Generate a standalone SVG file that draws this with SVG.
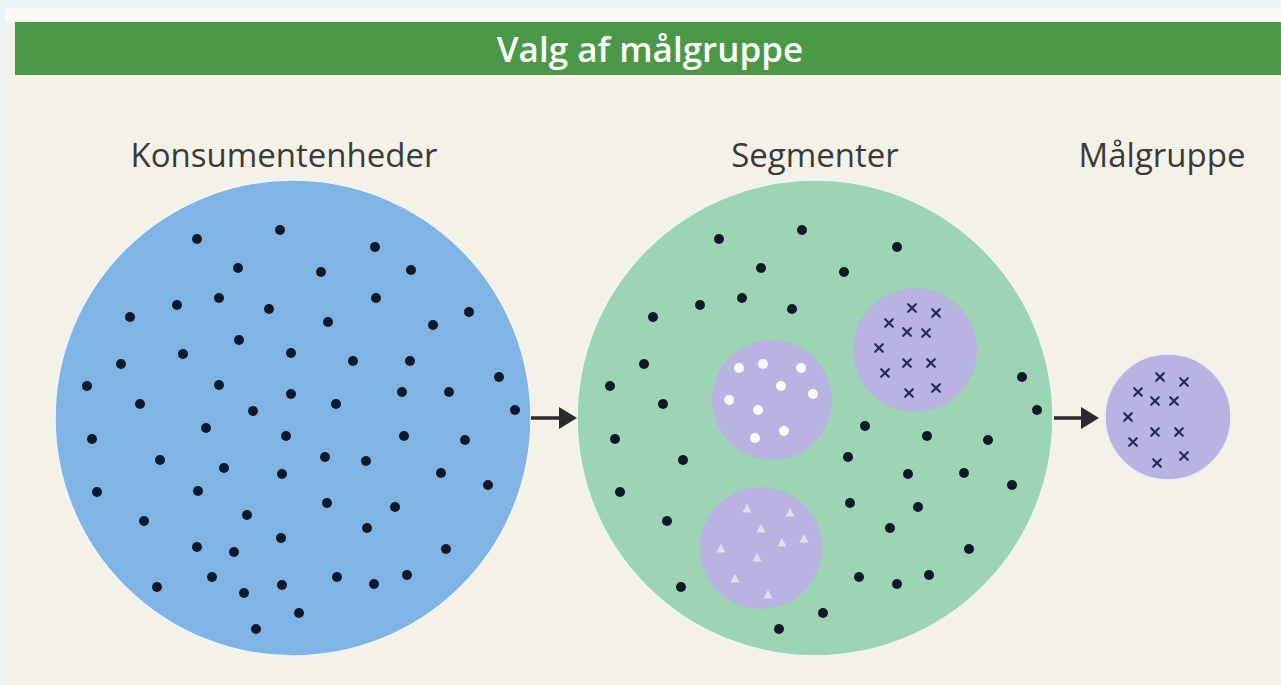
<svg xmlns="http://www.w3.org/2000/svg" xmlns:xlink="http://www.w3.org/1999/xlink" width="1281" height="685" viewBox="0 0 1281 685">
<style>
.title{font-family:"Open Sans","Liberation Sans",sans-serif;font-weight:600;font-size:35px;fill:#ffffff}
.lbl{font-family:"Open Sans","Liberation Sans",sans-serif;font-size:33px;fill:#3a3a3a}
.d{fill:#0e1a2c}
.w{fill:#fbf8ff}
.arr{stroke:#2a2a2a;stroke-width:3.5;fill:none}
.ah{fill:#2a2a2a}
</style>
<defs>
<path id="x" d="M-3.8,-3.8L3.8,3.8M3.8,-3.8L-3.8,3.8" stroke="#2b2a55" stroke-width="2.2" stroke-linecap="round"/>
<polygon id="t" points="0,-5 4.6,3.6 -4.6,3.6" fill="#ece3ee" opacity="0.85"/>
</defs>
<rect x="0" y="0" width="1281" height="685" fill="#e9f4f4"/>
<rect x="5" y="8" width="1276" height="677" fill="#f4f1e6"/>
<rect x="5" y="8" width="1276" height="14" fill="#fbfaf4"/>
<g id="header">
<rect x="15" y="22" width="1266" height="53" fill="#4a9848"/>
<text class="title" x="650" y="62" text-anchor="middle">Valg af målgruppe</text>
</g>
<g id="consumers">
<text class="lbl" x="284" y="167" text-anchor="middle">Konsumentenheder</text>
<circle cx="293" cy="418" r="238" fill="#80b4e4" stroke="#eef6fa" stroke-width="1.5"/>
<g>
<circle class="d" cx="197" cy="239" r="5"/><circle class="d" cx="280" cy="230" r="5"/><circle class="d" cx="375" cy="247" r="5"/>
<circle class="d" cx="238" cy="268" r="5"/><circle class="d" cx="321" cy="272" r="5"/><circle class="d" cx="411" cy="270" r="5"/>
<circle class="d" cx="130" cy="317" r="5"/><circle class="d" cx="177" cy="305" r="5"/><circle class="d" cx="219" cy="298" r="5"/>
<circle class="d" cx="269" cy="309" r="5"/><circle class="d" cx="328" cy="322" r="5"/><circle class="d" cx="376" cy="298" r="5"/>
<circle class="d" cx="433" cy="325" r="5"/><circle class="d" cx="469" cy="312" r="5"/>
<circle class="d" cx="121" cy="364" r="5"/><circle class="d" cx="183" cy="354" r="5"/><circle class="d" cx="239" cy="340" r="5"/>
<circle class="d" cx="291" cy="353" r="5"/><circle class="d" cx="353" cy="361" r="5"/><circle class="d" cx="410" cy="361" r="5"/>
<circle class="d" cx="87" cy="386" r="5"/><circle class="d" cx="140" cy="404" r="5"/><circle class="d" cx="219" cy="385" r="5"/>
<circle class="d" cx="253" cy="411" r="5"/><circle class="d" cx="291" cy="394" r="5"/><circle class="d" cx="336" cy="404" r="5"/>
<circle class="d" cx="402" cy="392" r="5"/><circle class="d" cx="449" cy="392" r="5"/><circle class="d" cx="499" cy="377" r="5"/>
<circle class="d" cx="515" cy="410" r="5"/>
<circle class="d" cx="92" cy="439" r="5"/><circle class="d" cx="206" cy="428" r="5"/><circle class="d" cx="286" cy="436" r="5"/>
<circle class="d" cx="404" cy="436" r="5"/><circle class="d" cx="465" cy="440" r="5"/>
<circle class="d" cx="160" cy="460" r="5"/><circle class="d" cx="224" cy="468" r="5"/><circle class="d" cx="282" cy="474" r="5"/>
<circle class="d" cx="325" cy="457" r="5"/><circle class="d" cx="366" cy="461" r="5"/><circle class="d" cx="441" cy="473" r="5"/>
<circle class="d" cx="488" cy="485" r="5"/>
<circle class="d" cx="97" cy="492" r="5"/><circle class="d" cx="198" cy="491" r="5"/><circle class="d" cx="247" cy="515" r="5"/>
<circle class="d" cx="327" cy="503" r="5"/><circle class="d" cx="367" cy="528" r="5"/><circle class="d" cx="395" cy="507" r="5"/>
<circle class="d" cx="144" cy="521" r="5"/><circle class="d" cx="197" cy="547" r="5"/><circle class="d" cx="234" cy="552" r="5"/>
<circle class="d" cx="281" cy="538" r="5"/><circle class="d" cx="446" cy="549" r="5"/>
<circle class="d" cx="157" cy="587" r="5"/><circle class="d" cx="212" cy="577" r="5"/><circle class="d" cx="244" cy="593" r="5"/>
<circle class="d" cx="282" cy="585" r="5"/><circle class="d" cx="337" cy="577" r="5"/><circle class="d" cx="374" cy="584" r="5"/>
<circle class="d" cx="407" cy="575" r="5"/><circle class="d" cx="299" cy="613" r="5"/><circle class="d" cx="256" cy="629" r="5"/>
</g>
</g>
<g id="segments">
<text class="lbl" x="815" y="167" text-anchor="middle">Segmenter</text>
<circle cx="815" cy="418" r="238" fill="#9dd4b3" stroke="#eef8f2" stroke-width="1.5"/>
<g>
<circle class="d" cx="719" cy="239" r="5"/><circle class="d" cx="802" cy="230" r="5"/><circle class="d" cx="897" cy="247" r="5"/>
<circle class="d" cx="761" cy="268" r="5"/><circle class="d" cx="844" cy="272" r="5"/>
<circle class="d" cx="653" cy="317" r="5"/><circle class="d" cx="700" cy="305" r="5"/><circle class="d" cx="742" cy="298" r="5"/>
<circle class="d" cx="792" cy="309" r="5"/>
<circle class="d" cx="644" cy="364" r="5"/><circle class="d" cx="610" cy="386" r="5"/><circle class="d" cx="663" cy="404" r="5"/>
<circle class="d" cx="1022" cy="377" r="5"/><circle class="d" cx="1037" cy="410" r="5"/>
<circle class="d" cx="615" cy="439" r="5"/><circle class="d" cx="865" cy="426" r="5"/><circle class="d" cx="927" cy="436" r="5"/>
<circle class="d" cx="988" cy="440" r="5"/>
<circle class="d" cx="683" cy="460" r="5"/><circle class="d" cx="848" cy="457" r="5"/><circle class="d" cx="908" cy="474" r="5"/>
<circle class="d" cx="964" cy="473" r="5"/><circle class="d" cx="1012" cy="485" r="5"/>
<circle class="d" cx="620" cy="492" r="5"/><circle class="d" cx="667" cy="521" r="5"/><circle class="d" cx="850" cy="503" r="5"/>
<circle class="d" cx="890" cy="528" r="5"/><circle class="d" cx="918" cy="507" r="5"/><circle class="d" cx="969" cy="549" r="5"/>
<circle class="d" cx="681" cy="587" r="5"/><circle class="d" cx="859" cy="577" r="5"/><circle class="d" cx="897" cy="584" r="5"/>
<circle class="d" cx="929" cy="575" r="5"/><circle class="d" cx="823" cy="613" r="5"/><circle class="d" cx="779" cy="629" r="5"/>
</g>
<g id="segment-a">
<circle cx="772" cy="400" r="60" fill="#b8b3e0"/>
<circle class="w" cx="739" cy="368" r="5"/><circle class="w" cx="763" cy="364" r="5"/><circle class="w" cx="801" cy="368" r="5"/>
<circle class="w" cx="781" cy="386" r="5"/><circle class="w" cx="813" cy="394" r="5"/><circle class="w" cx="729" cy="400" r="5"/>
<circle class="w" cx="758" cy="410" r="5"/><circle class="w" cx="784" cy="431" r="5"/><circle class="w" cx="755" cy="438" r="5"/>
</g>
<g id="segment-b">
<circle cx="915" cy="350" r="62" fill="#b8b3e0"/>
<use xlink:href="#x" x="912" y="308"/><use xlink:href="#x" x="936" y="313"/><use xlink:href="#x" x="889" y="323"/>
<use xlink:href="#x" x="907" y="332"/><use xlink:href="#x" x="926" y="333"/><use xlink:href="#x" x="879" y="348"/>
<use xlink:href="#x" x="907" y="363"/><use xlink:href="#x" x="931" y="363"/><use xlink:href="#x" x="885" y="373"/>
<use xlink:href="#x" x="909" y="393"/><use xlink:href="#x" x="936" y="388"/>
</g>
<g id="segment-c">
<circle cx="761" cy="548" r="61" fill="#b8b3e0"/>
<use xlink:href="#t" x="747" y="509"/><use xlink:href="#t" x="790" y="513"/><use xlink:href="#t" x="761" y="529"/>
<use xlink:href="#t" x="782" y="543"/><use xlink:href="#t" x="804" y="539"/><use xlink:href="#t" x="721" y="549"/>
<use xlink:href="#t" x="757" y="558"/><use xlink:href="#t" x="735" y="579"/><use xlink:href="#t" x="768" y="595"/>
</g>
</g>
<g id="target">
<text class="lbl" x="1162" y="167" text-anchor="middle">Målgruppe</text>
<circle cx="1168" cy="417" r="63" fill="#b8b3e0" stroke="#eeeef8" stroke-width="1.5"/>
<use xlink:href="#x" x="1160" y="377"/><use xlink:href="#x" x="1184" y="382"/><use xlink:href="#x" x="1138" y="392"/>
<use xlink:href="#x" x="1155" y="401"/><use xlink:href="#x" x="1174" y="401"/><use xlink:href="#x" x="1128" y="417"/>
<use xlink:href="#x" x="1155" y="432"/><use xlink:href="#x" x="1179" y="432"/><use xlink:href="#x" x="1133" y="442"/>
<use xlink:href="#x" x="1157" y="463"/><use xlink:href="#x" x="1184" y="456"/>
</g>
<g id="connectors">
<line class="arr" x1="531" y1="418" x2="563" y2="418"/>
<polygon class="ah" points="559,407 577,418 559,429"/>
<line class="arr" x1="1054" y1="418" x2="1085" y2="418"/>
<polygon class="ah" points="1081,407 1099,418 1081,429"/>
</g>
</svg>
